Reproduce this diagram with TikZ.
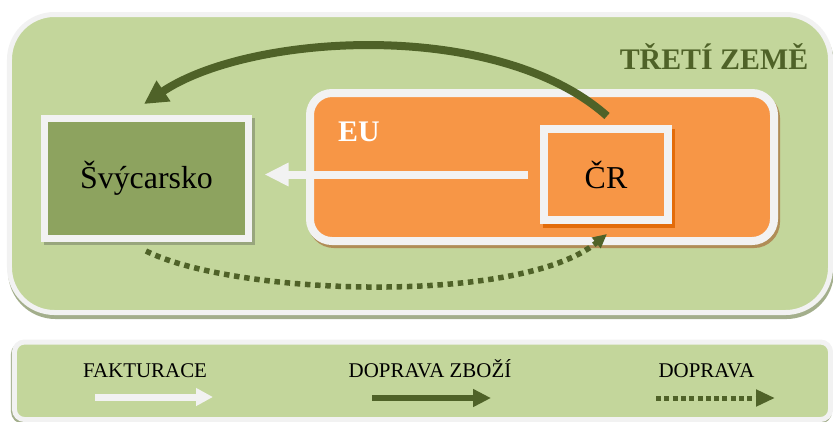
\documentclass[tikz,border=0pt]{standalone}
\usepackage{fontspec}
\setmainfont{Liberation Serif}
\usetikzlibrary{arrows.meta,shadows}
\definecolor{tzgreen}{HTML}{C3D69B}
\definecolor{edgewhite}{HTML}{F2F2F2}
\definecolor{darkolive}{HTML}{4F6228}
\definecolor{olivebox}{HTML}{8DA35F}
\definecolor{euorange}{HTML}{F79646}
\definecolor{crshadow}{HTML}{E36C0A}
\definecolor{eushadow}{HTML}{B08D57}
\definecolor{greyshadow}{HTML}{A3AE8C}
\definecolor{swshadow}{HTML}{98A67D}
\begin{document}
\begin{tikzpicture}[x=1bp,y=-1bp,
    region/.style={draw=edgewhite,inner sep=0pt},
    country/.style={draw=edgewhite,inner sep=0pt,font=\fontsize{32}{38}\selectfont},
    legendtext/.style={anchor=base,inner sep=0pt,font=\fontsize{21}{25}\selectfont},
    invoice/.style={draw=edgewhite,line width=8bp,-{Triangle[length=24bp,width=22bp]}},
    goods/.style={draw=darkolive,line width=8bp,-{Triangle[length=23.5bp,width=23.5bp]}},
    transport/.style={draw=darkolive,line width=5.5bp,dash pattern=on 5.5bp off 4.7bp,
      -{Triangle[length=14bp,width=13bp]}}]
  \useasboundingbox (0,0) rectangle (833,421);
  % regions
  \node[region,fill=tzgreen,line width=5bp,rounded corners=45bp,
    minimum width=821bp,minimum height=298bp,
    drop shadow={shadow xshift=1bp,shadow yshift=-4bp,fill=greyshadow,
      draw=greyshadow,opacity=1}] (tz) at (420,163.5) {};
  \node[region,fill=euorange,line width=8bp,rounded corners=22bp,
    minimum width=464bp,minimum height=148bp,
    drop shadow={shadow xshift=2bp,shadow yshift=-3bp,fill=eushadow,
      draw=eushadow,opacity=1}] (eu) at (542,167) {};
  \node[region,fill=tzgreen,line width=5bp,rounded corners=10bp,
    minimum width=816bp,minimum height=77.5bp,
    drop shadow={shadow xshift=-1bp,shadow yshift=-2bp,fill=greyshadow,
      draw=greyshadow,opacity=1}] (legend) at (422.5,380.75) {};
  \node[text=darkolive,anchor=base,inner sep=0pt,
    font=\bfseries\fontsize{30}{36}\selectfont] (tzlabel) at (714,69) {TŘETÍ ZEMĚ};
  \node[text=white,anchor=base west,inner sep=0pt,
    font=\bfseries\fontsize{30}{36}\selectfont] (eulabel) at (338,141) {EU};
  % countries
  \node[country,fill=olivebox,line width=7bp,minimum width=203bp,minimum height=120bp,
    drop shadow={shadow xshift=3bp,shadow yshift=-3bp,fill=swshadow,
      draw=swshadow,opacity=1}] (sw) at (146.5,178.5) {Švýcarsko};
  \node[country,fill=euorange,line width=8bp,minimum width=124bp,minimum height=91bp,
    drop shadow={shadow xshift=3bp,shadow yshift=-4bp,fill=crshadow,
      draw=crshadow,opacity=1}] (cr) at (606,174.5) {ČR};
  % flows
  \draw[goods] ([shift={(1,-9)}]cr.north)
    .. controls +(-110,-98) and +(106,-71) .. ([shift={(-2.5,-11)}]sw.north);
  \draw[invoice,shorten <=12bp,shorten >=13bp] (cr.west) -- (cr.west -| sw.east);
  \draw[transport] ([shift={(-0.5,9)}]sw.south)
    .. controls +(90,45) and +(-86,71) .. ([shift={(1,10)}]cr.south);
  % legend
  \node[legendtext] (fakt) at (145,377) {FAKTURACE};
  \node[legendtext] (zbozi) at (430,377) {DOPRAVA ZBOŽÍ};
  \node[legendtext] (doprava) at (706.5,377) {DOPRAVA};
  \coordinate (fakt1) at (95,397);
  \coordinate (fakt2) at (213,397);
  \coordinate (zbozi1) at (372,398);
  \coordinate (zbozi2) at (491,398);
  \coordinate (doprava1) at (656,398);
  \coordinate (doprava2) at (775,398);
  \draw[invoice,line width=7bp,-{Triangle[length=17bp,width=17bp]}] (fakt1) -- (fakt2);
  \draw[goods,line width=6bp,-{Triangle[length=18bp,width=17bp]}] (zbozi1) -- (zbozi2);
  \draw[transport,line width=5bp,dash pattern=on 5bp off 3.3bp,
    -{Triangle[length=19bp,width=16bp]}] (doprava1) -- (doprava2);
\end{tikzpicture}
\end{document}
